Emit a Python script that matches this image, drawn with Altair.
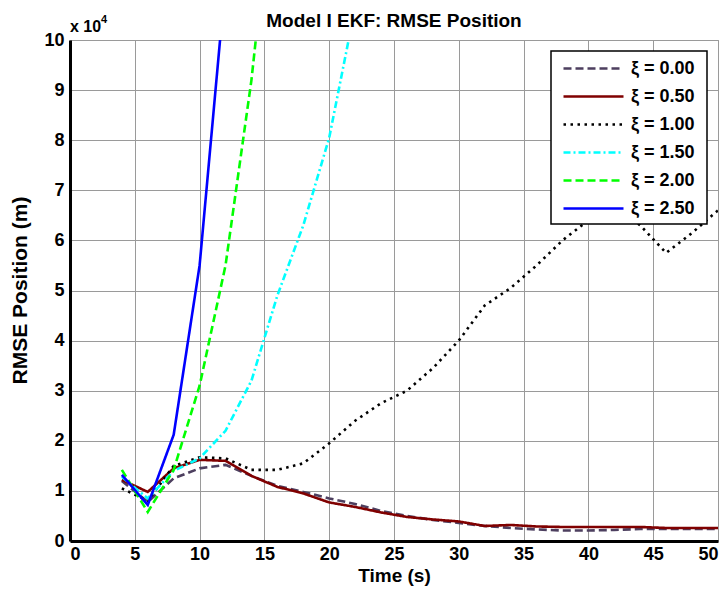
import altair as alt
import pandas as pd

t = [4, 6, 8, 10, 12, 14, 16, 18, 20, 22, 24, 26, 28, 30, 32, 34, 36, 38, 40, 42, 44, 46, 48, 50]

labels = ["ξ = 0.00", "ξ = 0.50", "ξ = 1.00", "ξ = 1.50", "ξ = 2.00", "ξ = 2.50"]

# RMSE position in units of 1e4 m
xi_000 = [1.2, 0.78, 1.25, 1.45, 1.52, 1.3, 1.1, 0.98, 0.85, 0.74, 0.6, 0.5,
          0.42, 0.36, 0.3, 0.26, 0.23, 0.21, 0.21, 0.22, 0.24, 0.24, 0.24, 0.24]
xi_050 = [1.22, 0.98, 1.45, 1.62, 1.6, 1.3, 1.08, 0.95, 0.77, 0.68, 0.57, 0.48,
          0.43, 0.39, 0.3, 0.32, 0.29, 0.28, 0.28, 0.28, 0.28, 0.26, 0.26, 0.26]
xi_100 = [1.05, 0.8, 1.5, 1.67, 1.65, 1.42, 1.42, 1.55, 1.95, 2.4, 2.75, 3.0,
          3.45, 4.0, 4.7, 5.05, 5.5, 6.0, 6.4, 6.7, 6.3, 5.75, 6.15, 6.6]
xi_150 = [1.28, 0.85, 1.4, 1.65, 2.2, 3.2, 4.9, 6.3, 8.05, 10.65, 14.0]
xi_200 = [1.42, 0.58, 1.42, 3.1, 5.5, 9.2, 14.0]
xi_250 = [1.32, 0.72, 2.12, 5.5, 11.2]

series = [xi_000, xi_050, xi_100, xi_150, xi_200, xi_250]
colors = ["#4D3F5F", "#800000", "#000000", "#00FFFF", "#00FF00", "#0000FF"]
dashes = [[8, 4], [1, 0], [2.5, 4.5], [7, 3, 2, 3], [8, 4], [1, 0]]

rows = []
for lab, vals in zip(labels, series):
    for tt, v in zip(t, vals):
        rows.append({"t": tt, "rmse": v, "series": lab})
df = pd.DataFrame(rows)

FONT = "Liberation Sans"

leg = alt.Legend(title=None, orient="none", legendX=492, legendY=17)

lines = alt.Chart(df).mark_line(clip=True, strokeWidth=2.6).encode(
    x=alt.X("t:Q", scale=alt.Scale(domain=[0, 50], nice=False),
            axis=alt.Axis(values=list(range(0, 51, 5)), title="Time (s)",
                          titlePadding=3, titleFontSize=19, labelPadding=4)),
    y=alt.Y("rmse:Q", scale=alt.Scale(domain=[0, 10], nice=False),
            axis=alt.Axis(values=list(range(0, 11)), title="RMSE Position (m)",
                          titleX=-50, titleY=250, titleBaseline="middle",
                          titleAngle=270, titleAlign="center",
                          titleFontSize=21, labelPadding=6)),
    color=alt.Color("series:N", scale=alt.Scale(domain=labels, range=colors), legend=leg),
    strokeDash=alt.StrokeDash("series:N", scale=alt.Scale(domain=labels, range=dashes), legend=leg),
)

ann = pd.DataFrame({"a": [0]})
box = alt.Chart(ann).mark_rect(fill="white", stroke="black", strokeWidth=1.5).encode(
    x=alt.value(481), x2=alt.value(637), y=alt.value(11), y2=alt.value(184))
x10 = alt.Chart(ann).mark_text(align="left", baseline="alphabetic", font=FONT,
                               fontWeight="bold", fontSize=16, color="black").encode(
    x=alt.value(0), y=alt.value(-8), text=alt.value("x 10"))
sup = alt.Chart(ann).mark_text(align="left", baseline="alphabetic", font=FONT,
                               fontWeight="bold", fontSize=11, color="black").encode(
    x=alt.value(31), y=alt.value(-17), text=alt.value("4"))
ttl = alt.Chart(ann).mark_text(align="center", baseline="alphabetic", font=FONT,
                               fontWeight="bold", fontSize=19, color="black").encode(
    x=alt.value(324), y=alt.value(-13), text=alt.value("Model I EKF: RMSE Position"))

chart = alt.layer(lines, box, x10, sup, ttl).properties(
    width=648, height=501,
    autosize=alt.AutoSizeParams(type="none"),
    padding={"left": 62, "top": 32, "right": 1, "bottom": 48},
).configure_view(stroke="#999999", strokeWidth=1).configure_axis(
    labelFont=FONT, labelFontSize=18, labelFontWeight="bold", labelColor="black",
    titleFont=FONT, titleFontWeight="bold", titleColor="black",
    grid=True, gridColor="#9a9a9a", gridWidth=1, gridOpacity=1,
    domainColor="black", domainWidth=3, ticks=False,
).configure_legend(
    strokeColor="transparent", padding=0, symbolType="M-1,0L5,0",
    symbolSize=400, symbolStrokeWidth=2.6, labelFont=FONT, labelFontSize=18,
    labelFontWeight="bold", labelColor="black", rowPadding=7, labelOffset=46,
    cornerRadius=0,
)

chart.save("out.html", embed_options={"renderer": "svg", "actions": False})
